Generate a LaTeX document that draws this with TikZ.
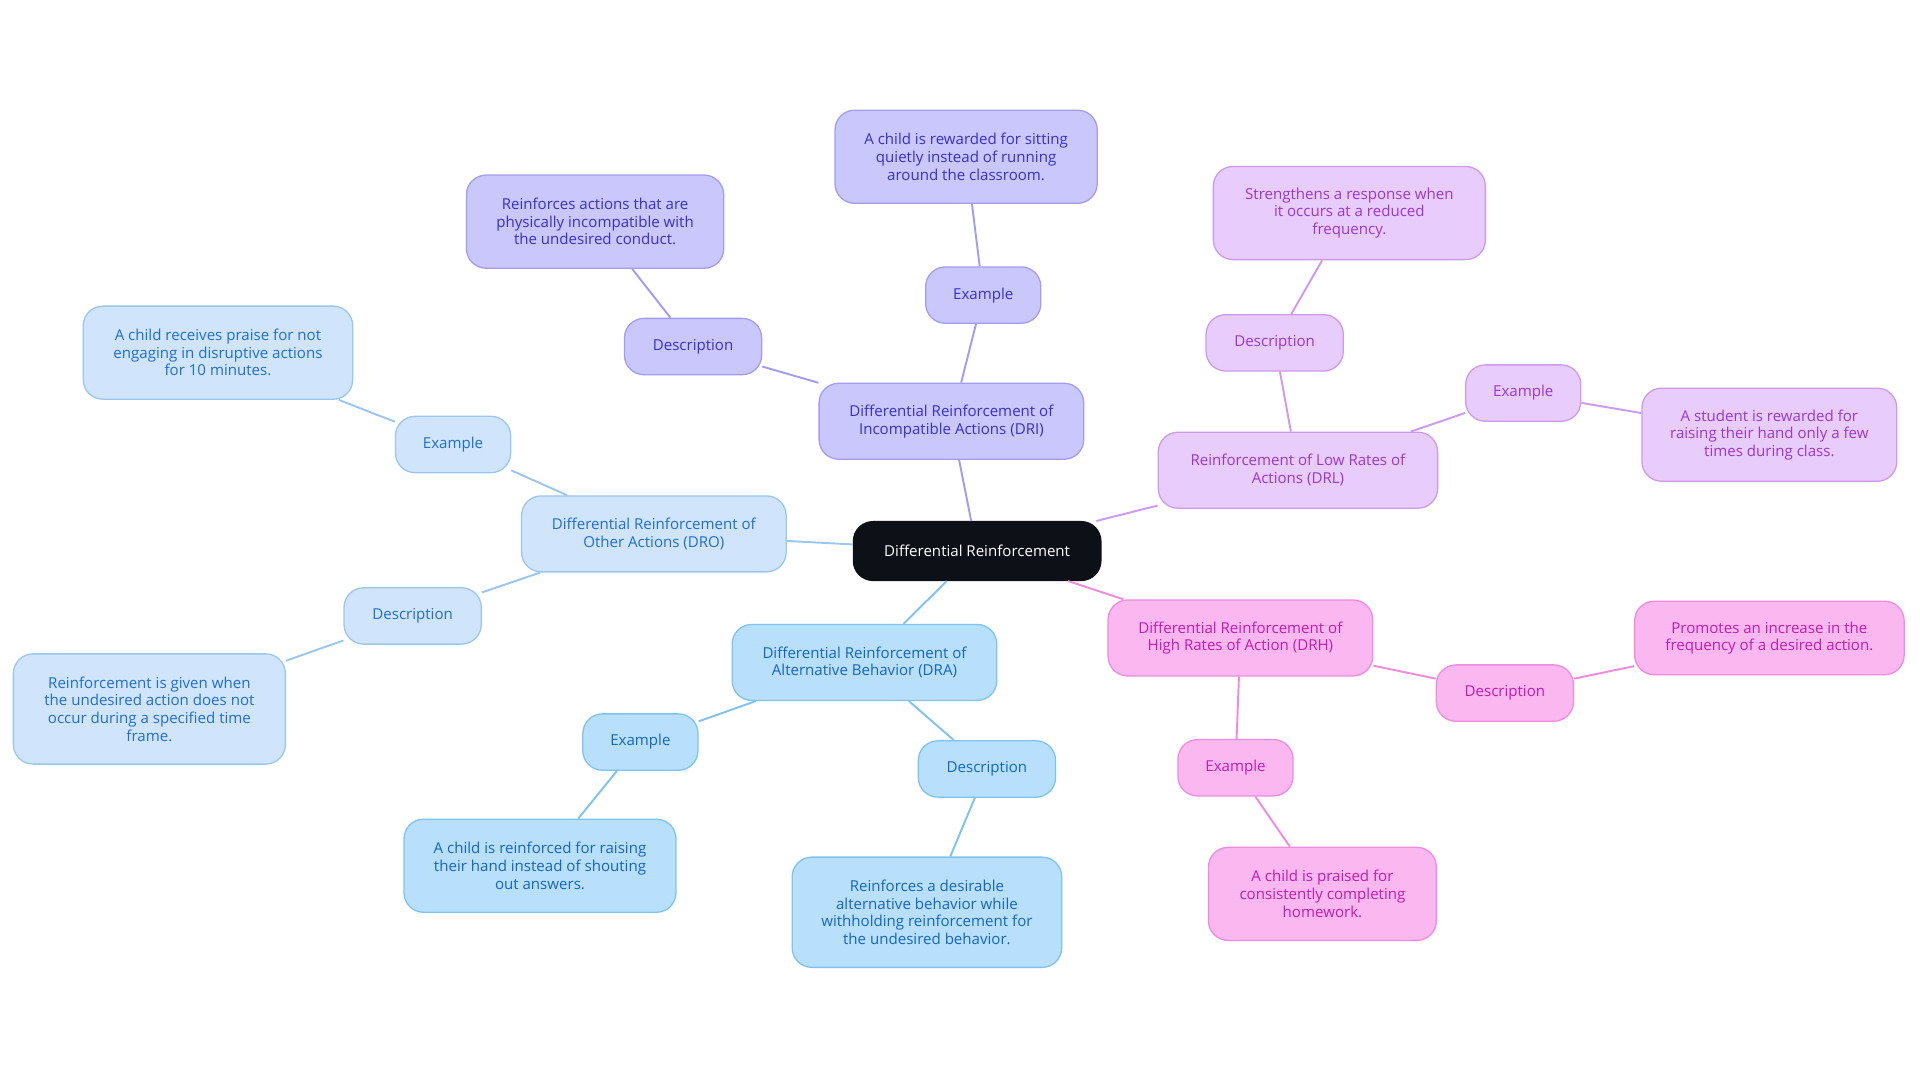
\documentclass[tikz,border=0pt]{standalone}
\usepackage{fontspec}
\setmainfont{Open Sans}
\usepackage{xcolor}
\usetikzlibrary{positioning}
\definecolor{rootfill}{HTML}{0D1117}
\definecolor{drifill}{HTML}{C9C7FC}\definecolor{drieage}{HTML}{A49CF2}\definecolor{dritext}{HTML}{3B2FC9}
\definecolor{drlfill}{HTML}{E8CCFB}\definecolor{drledge}{HTML}{CC9AF2}\definecolor{drltext}{HTML}{9A37D0}
\definecolor{drhfill}{HTML}{FBB7EF}\definecolor{drhedge}{HTML}{F08BDF}\definecolor{drhtext}{HTML}{C31CB0}
\definecolor{drafill}{HTML}{B8DFFC}\definecolor{draedge}{HTML}{7EC3F2}\definecolor{dratext}{HTML}{1566C0}
\definecolor{drofill}{HTML}{D0E4FB}\definecolor{droedge}{HTML}{9CC6F2}\definecolor{drotext}{HTML}{1E6FD0}

\begin{document}
\begin{tikzpicture}[x=0.01cm, y=-0.01cm,
    bubble/.style={rectangle, rounded corners=0.16cm, draw, line width=0.3pt, align=center,
      inner sep=0pt, font=\fontsize{3.5}{4.1}\selectfont},
    dri/.style={bubble, fill=drifill, draw=drieage, text=dritext},
    drl/.style={bubble, fill=drlfill, draw=drledge, text=drltext},
    drh/.style={bubble, fill=drhfill, draw=drhedge, text=drhtext},
    dra/.style={bubble, fill=drafill, draw=draedge, text=dratext},
    dro/.style={bubble, fill=drofill, draw=droedge, text=drotext},
    link/.style={line width=0.45pt}
]
\useasboundingbox (0,0) rectangle (1568,884);
% Root
\node[bubble, fill=rootfill, draw=rootfill, text=white, minimum width=2.02cm, minimum height=0.48cm] (root) at (798,450) {Differential Reinforcement};

% DRI
\node[dri, minimum width=2.16cm, minimum height=0.62cm] (dri) at (777,344) {Differential Reinforcement of\\Incompatible Actions (DRI)};
\node[dri, minimum width=1.12cm, minimum height=0.46cm] (dridesc) at (566,283) {Description};
\node[dri, minimum width=2.10cm, minimum height=0.76cm] (dridesctext) at (486,181) {Reinforces actions that are\\physically incompatible with\\the undesired conduct.};
\node[dri, minimum width=0.94cm, minimum height=0.46cm] (driex) at (803,241) {Example};
\node[dri, minimum width=2.14cm, minimum height=0.76cm] (driextext) at (789,128) {A child is rewarded for sitting\\quietly instead of running\\around the classroom.};

% DRL
\node[drl, minimum width=2.28cm, minimum height=0.62cm] (drl) at (1060,384) {Reinforcement of Low Rates of\\Actions (DRL)};
\node[drl, minimum width=1.12cm, minimum height=0.46cm] (drldesc) at (1041,280) {Description};
\node[drl, minimum width=2.22cm, minimum height=0.76cm] (drldesctext) at (1102,174) {Strengthens a response when\\it occurs at a reduced\\frequency.};
\node[drl, minimum width=0.94cm, minimum height=0.46cm] (drlex) at (1244,321) {Example};
\node[drl, minimum width=2.08cm, minimum height=0.76cm] (drlextext) at (1445,355) {A student is rewarded for\\raising their hand only a few\\times during class.};

% DRH
\node[drh, minimum width=2.16cm, minimum height=0.62cm] (drh) at (1013,521) {Differential Reinforcement of\\High Rates of Action (DRH)};
\node[drh, minimum width=1.12cm, minimum height=0.46cm] (drhdesc) at (1229,566) {Description};
\node[drh, minimum width=2.20cm, minimum height=0.60cm] (drhdesctext) at (1445,521) {Promotes an increase in the\\frequency of a desired action.};
\node[drh, minimum width=0.94cm, minimum height=0.46cm] (drhex) at (1009,627) {Example};
\node[drh, minimum width=1.86cm, minimum height=0.76cm] (drhextext) at (1080,730) {A child is praised for\\consistently completing\\homework.};

% DRA
\node[dra, minimum width=2.16cm, minimum height=0.62cm] (dra) at (706,541) {Differential Reinforcement of\\Alternative Behavior (DRA)};
\node[dra, minimum width=0.94cm, minimum height=0.46cm] (draex) at (523,606) {Example};
\node[dra, minimum width=2.22cm, minimum height=0.76cm] (draextext) at (441,707) {A child is reinforced for raising\\their hand instead of shouting\\out answers.};
\node[dra, minimum width=1.12cm, minimum height=0.46cm] (dradesc) at (806,628) {Description};
\node[dra, minimum width=2.20cm, minimum height=0.90cm] (dradesctext) at (757,745) {Reinforces a desirable\\alternative behavior while\\withholding reinforcement for\\the undesired behavior.};

% DRO
\node[dro, minimum width=2.16cm, minimum height=0.62cm] (dro) at (534,436) {Differential Reinforcement of\\Other Actions (DRO)};
\node[dro, minimum width=0.94cm, minimum height=0.46cm] (droex) at (370,363) {Example};
\node[dro, minimum width=2.20cm, minimum height=0.76cm] (droextext) at (178,288) {A child receives praise for not\\engaging in disruptive actions\\for 10 minutes.};
\node[dro, minimum width=1.12cm, minimum height=0.46cm] (drodesc) at (337,503) {Description};
\node[dro, minimum width=2.22cm, minimum height=0.90cm] (drodesctext) at (122,579) {Reinforcement is given when\\the undesired action does not\\occur during a specified time\\frame.};

% Links
\draw[link, drieage] (root) -- (dri) (dri) -- (dridesc) -- (dridesctext) (dri) -- (driex) -- (driextext);
\draw[link, drledge] (root) -- (drl) (drl) -- (drldesc) -- (drldesctext) (drl) -- (drlex) -- (drlextext);
\draw[link, drhedge] (root) -- (drh) (drh) -- (drhdesc) -- (drhdesctext) (drh) -- (drhex) -- (drhextext);
\draw[link, draedge] (root) -- (dra) (dra) -- (draex) -- (draextext) (dra) -- (dradesc) -- (dradesctext);
\draw[link, droedge] (root) -- (dro) (dro) -- (droex) -- (droextext) (dro) -- (drodesc) -- (drodesctext);
\end{tikzpicture}
\end{document}
